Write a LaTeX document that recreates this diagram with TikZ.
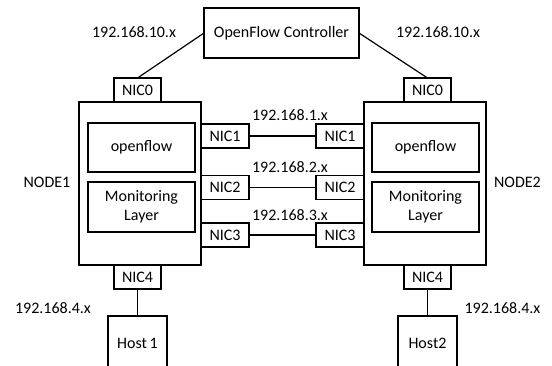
\documentclass[tikz,border=0pt]{standalone}
\usepackage{fontspec}
\setmainfont{Carlito}
\usepackage{tikz}
\tikzset{
  box/.style={draw,line width=1.3pt,inner sep=0pt,outer sep=0pt,align=center,font=\fontsize{16}{19}\selectfont},
  nic/.style={box,minimum width=48pt,minimum height=24pt},
  nodebox/.style={box,minimum width=122pt,minimum height=163pt},
  inner/.style={box,minimum width=107pt,minimum height=49pt},
  hostbox/.style={box,minimum width=59pt,minimum height=54pt},
  lbl/.style={inner sep=0pt,font=\fontsize{16}{19}\selectfont},
  link/.style={line width=1.2pt},
}

\begin{document}
\begin{tikzpicture}[x=1pt,y=-1pt]
  \useasboundingbox (0,0) rectangle (552,365);
  % controller
  \node[box,minimum width=155pt,minimum height=50pt] (ctrl) at (281.5,33) {OpenFlow Controller};
  \node[lbl] (net10a) at (134,32) {192.168.10.x};
  \node[lbl] (net10b) at (438,32) {192.168.10.x};
  % the two nodes
  \node[nodebox] (node1) at (140,183.5) {};
  \node[nodebox] (node2) at (425,183.5) {};
  \node[inner] (of1) at (141.5,147.5) {openflow};
  \node[inner,minimum height=50pt] (ml1) at (141.5,207) {Monitoring\\Layer};
  \node[inner] (of2) at (425.5,147.5) {openflow};
  \node[inner,minimum height=50pt] (ml2) at (425.5,207) {Monitoring\\Layer};
  \node[lbl] (name1) at (47,182) {NODE1};
  \node[lbl] (name2) at (517.5,182) {NODE2};
  % network cards
  \node[nic,minimum width=47pt] (nic0a) at (137.5,90) {NIC0};
  \node[nic,minimum width=47pt] (nic0b) at (427.5,90) {NIC0};
  \node[nic] (nic1a) at (225,136) {NIC1};
  \node[nic] (nic2a) at (225,187.5) {NIC2};
  \node[nic] (nic3a) at (225,235) {NIC3};
  \node[nic] (nic1b) at (340,136) {NIC1};
  \node[nic] (nic2b) at (340,187.5) {NIC2};
  \node[nic] (nic3b) at (340,235) {NIC3};
  \node[nic,minimum width=47pt] (nic4a) at (137.5,277) {NIC4};
  \node[nic,minimum width=47pt] (nic4b) at (427.5,277) {NIC4};
  \node[lbl] (net1) at (290,115) {192.168.1.x};
  \node[lbl] (net2) at (290,167) {192.168.2.x};
  \node[lbl] (net3) at (290,215) {192.168.3.x};
  % hosts
  \node[hostbox] (host1) at (137.5,343) {Host\,1};
  \node[hostbox] (host2) at (427.5,343) {Host2};
  \node[lbl] (net4a) at (53,308) {192.168.4.x};
  \node[lbl] (net4b) at (502.5,308) {192.168.4.x};
  % links
  \draw[link] (nic0a.north) -- (ctrl.west);
  \draw[link] (ctrl.east) -- (nic0b.north);
  \draw[link] (nic1a) -- (nic1b);
  \draw[link] (nic2a) -- (nic2b);
  \draw[link] (nic3a) -- (nic3b);
  \draw[link] (nic4a) -- (host1);
  \draw[link] (nic4b) -- (host2);
\end{tikzpicture}
\end{document}
